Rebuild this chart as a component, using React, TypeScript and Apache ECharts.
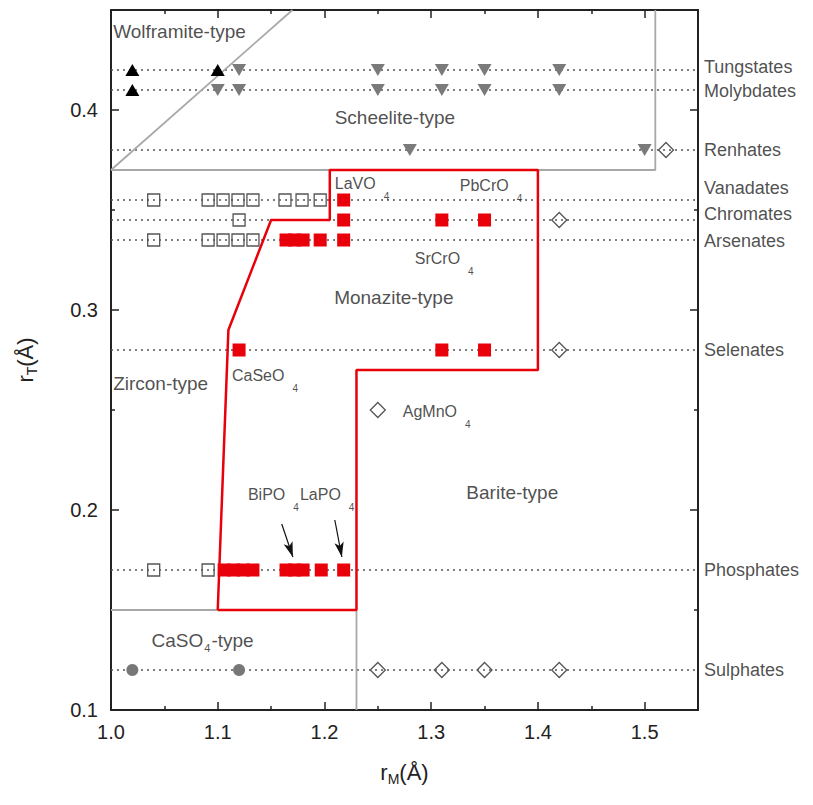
import React, { useEffect, useRef } from 'react';
import * as echarts from 'echarts';

// ---------- data ----------
const rowNames = ['Tungstates', 'Molybdates', 'Renhates', 'Vanadates', 'Chromates', 'Arsenates', 'Selenates', 'Phosphates', 'Sulphates'];
const rowY = [0.42, 0.41, 0.38, 0.355, 0.345, 0.335, 0.28, 0.17, 0.12];

// Wolframite-type (black up triangles)
const wolframitePts: [number, number][] = [[1.02, 0.42], [1.10, 0.42], [1.02, 0.41]];
// Scheelite-type (grey down triangles)
const scheelitePts: [number, number][] = [
  [1.12, 0.42], [1.25, 0.42], [1.31, 0.42], [1.35, 0.42], [1.42, 0.42],
  [1.10, 0.41], [1.12, 0.41], [1.25, 0.41], [1.31, 0.41], [1.35, 0.41], [1.42, 0.41],
  [1.28, 0.38], [1.50, 0.38],
];
// Zircon-type (open squares)
const zirconPts: [number, number][] = [
  [1.04, 0.355], [1.091, 0.355], [1.105, 0.355], [1.119, 0.355], [1.133, 0.355], [1.163, 0.355], [1.179, 0.355], [1.196, 0.355],
  [1.12, 0.345],
  [1.04, 0.335], [1.091, 0.335], [1.105, 0.335], [1.119, 0.335], [1.133, 0.335],
  [1.04, 0.17], [1.091, 0.17],
];
// Monazite-type (red squares)
const monazitePts: [number, number][] = [
  [1.218, 0.355],
  [1.218, 0.345], [1.31, 0.345], [1.35, 0.345],
  [1.164, 0.335], [1.172, 0.335], [1.18, 0.335], [1.196, 0.335], [1.218, 0.335],
  [1.12, 0.28], [1.31, 0.28], [1.35, 0.28],
  [1.106, 0.17], [1.115, 0.17], [1.124, 0.17], [1.133, 0.17], [1.164, 0.17], [1.172, 0.17], [1.18, 0.17], [1.197, 0.17], [1.218, 0.17],
];
// Barite-type (open diamonds)
const baritePts: [number, number][] = [
  [1.52, 0.38], [1.42, 0.345], [1.42, 0.28], [1.25, 0.25],
  [1.25, 0.12], [1.31, 0.12], [1.35, 0.12], [1.42, 0.12],
];
// CaSO4-type (grey circles)
const caso4Pts: [number, number][] = [[1.02, 0.12], [1.12, 0.12]];

// Region boundaries
const monaziteBoundary: [number, number][] = [
  [1.10, 0.15], [1.11, 0.29], [1.15, 0.345], [1.205, 0.345], [1.205, 0.37],
  [1.40, 0.37], [1.40, 0.27], [1.23, 0.27], [1.23, 0.15], [1.10, 0.15],
];
const scheeliteBoundary: [number, number][] = [[1.0, 0.37], [1.51, 0.37], [1.51, 0.45]];
const wolframiteBoundary: [number, number][] = [[1.0, 0.37], [1.17, 0.45]];
const caso4Boundary: [number, number][] = [[1.0, 0.15], [1.23, 0.15], [1.23, 0.1]];

// Region names
const regionNames = ['Wolframite-type', 'Scheelite-type', 'Monazite-type', 'Zircon-type', 'Barite-type', '{a|CaSO}{s|4}{a|-type}'];
const regionAt: [number, number][] = [[1.002, 0.4395], [1.266, 0.3965], [1.265, 0.3065], [1.002, 0.2635], [1.376, 0.209], [1.038, 0.135]];
const regionAlign = ['left', 'center', 'center', 'left', 'center', 'left'];

// Compound names (subscript 4)
const compoundNames = ['LaVO', 'PbCrO', 'SrCrO', 'CaSeO', 'AgMnO', 'BiPO', 'LaPO'];
const compoundAt: [number, number][] = [[1.2097, 0.3635], [1.3268, 0.3625], [1.2846, 0.326], [1.1133, 0.2675], [1.2734, 0.2495], [1.1283, 0.208], [1.177, 0.208]];

// Arrows
const arrows: [[number, number], [number, number]][] = [
  [[1.160, 0.193], [1.1704, 0.1765]],
  [[1.2097, 0.195], [1.2163, 0.1765]],
];

const xTickLabels = ['1.0', '1.1', '1.2', '1.3', '1.4', '1.5'];
const yTickLabels = ['0.1', '0.2', '0.3', '0.4'];

// ---------- layout / style ----------
const rowLabelOffset = [-3, 1, 0, -12, -6, 1, 0, 0, 0];
const FONT = 'Liberation Sans, Arial, sans-serif';
const TXT = '#222';
const RED = '#e8000b';

export default function App() {
  const ref = useRef<HTMLDivElement>(null);
  useEffect(() => {
    if (!ref.current) return;
    const chart = echarts.init(ref.current, undefined, { renderer: 'svg' });

    const fmt = (list: string[]) => (v: number) => {
      const t = (Math.round(v * 10) / 10).toFixed(1);
      return Math.abs(v - parseFloat(t)) < 1e-6 && list.includes(t) ? t : '';
    };

    const axisCommon = {
      type: 'value' as const,
      axisLine: { show: true, onZero: false, lineStyle: { color: '#222', width: 2 } },
      axisTick: { show: true, inside: true, length: 8, lineStyle: { color: '#222', width: 1.5 } },
      minorTick: { show: true, splitNumber: 2, length: 4, lineStyle: { color: '#222', width: 1.5 } },
      splitLine: { show: false },
      interval: 0.1,
    };

    const dotted = rowY.map((y) => ({
      type: 'line', silent: true, symbol: 'none', z: 1,
      data: [[1.0, y], [1.55, y]],
      lineStyle: { color: '#555', width: 1.5, type: [2, 4] },
    }));

    const boundary = (data: [number, number][], color: string, width: number) => ({
      type: 'line', silent: true, symbol: 'none', z: 2, data,
      lineStyle: { color, width },
    });

    const option: any = {
      animation: false,
      textStyle: { fontFamily: FONT },
      grid: { left: 111, right: 115, top: 10, bottom: 95 },
      xAxis: [
        {
          ...axisCommon, min: 1.0, max: 1.55, position: 'bottom',
          axisLabel: { formatter: fmt(xTickLabels), fontSize: 20, color: TXT, margin: 12, fontFamily: FONT },
          name: '{a|r}{s|M}{a|(Å)}', nameLocation: 'middle', nameGap: 48,
          nameTextStyle: {
            rich: {
              a: { fontSize: 22, color: TXT, fontFamily: FONT },
              s: { fontSize: 14, color: TXT, fontFamily: FONT, padding: [14, 0, 0, 0] },
            },
          },
        },
        {
          ...axisCommon, min: 1.0, max: 1.55, position: 'top',
          axisLabel: { show: false },
        },
      ],
      yAxis: [
        {
          ...axisCommon, min: 0.1, max: 0.45, position: 'left',
          axisLabel: { formatter: fmt(yTickLabels), fontSize: 20, color: TXT, margin: 13, fontFamily: FONT },
          name: '{a|r}{s|T}{a|(Å)}', nameLocation: 'middle', nameGap: 72, nameRotate: 90,
          nameTextStyle: {
            rich: {
              a: { fontSize: 22, color: TXT, fontFamily: FONT },
              s: { fontSize: 14, color: TXT, fontFamily: FONT, padding: [14, 0, 0, 0] },
            },
          },
        },
        {
          ...axisCommon, min: 0.1, max: 0.45, position: 'right',
          axisLabel: { show: false },
        },
      ],
      series: [
        ...dotted,
        boundary(scheeliteBoundary, '#a8a8a8', 1.8),
        boundary(wolframiteBoundary, '#a8a8a8', 1.8),
        boundary(caso4Boundary, '#a8a8a8', 1.8),
        boundary(monaziteBoundary, RED, 2.5),
        {
          type: 'scatter', name: 'Wolframite', z: 5, data: wolframitePts,
          symbol: 'triangle', symbolSize: [14, 12], itemStyle: { color: '#000', opacity: 1 },
        },
        {
          type: 'scatter', name: 'Scheelite', z: 5, data: scheelitePts,
          symbol: 'triangle', symbolRotate: 180, symbolSize: [14, 12], itemStyle: { color: '#7a7a7a', opacity: 1 },
        },
        {
          type: 'scatter', name: 'Zircon', z: 5, data: zirconPts,
          symbol: 'rect', symbolSize: 12,
          itemStyle: { color: 'rgba(255,255,255,0)', borderColor: '#555', borderWidth: 1.3, opacity: 1 },
        },
        {
          type: 'scatter', name: 'Monazite', z: 6, data: monazitePts,
          symbol: 'rect', symbolSize: 13, itemStyle: { color: RED, opacity: 1 },
        },
        {
          type: 'scatter', name: 'Barite', z: 5, data: baritePts,
          symbol: 'diamond', symbolSize: 15,
          itemStyle: { color: 'rgba(255,255,255,0)', borderColor: '#555', borderWidth: 1.3, opacity: 1 },
        },
        {
          type: 'scatter', name: 'CaSO4', z: 5, data: caso4Pts,
          symbol: 'circle', symbolSize: 12, itemStyle: { color: '#777', opacity: 1 },
        },
        // row names on the right
        {
          type: 'scatter', silent: true, symbolSize: 0, z: 7,
          data: rowY.map((y, i) => ({
            value: [1.55, y],
            label: { show: true, position: 'right', distance: 6, offset: [0, rowLabelOffset[i]], formatter: rowNames[i], fontSize: 18, color: TXT, fontFamily: FONT },
          })),
        },
        // region names
        {
          type: 'scatter', silent: true, symbolSize: 0, z: 7,
          data: regionAt.map((p, i) => ({
            value: p,
            label: {
              show: true, position: 'inside', align: regionAlign[i], verticalAlign: 'middle',
              formatter: regionNames[i], fontSize: 19, color: TXT, fontFamily: FONT,
              rich: {
                a: { fontSize: 19, color: TXT, fontFamily: FONT },
                s: { fontSize: 11, color: TXT, fontFamily: FONT, padding: [16, 1, 0, 1] },
              },
            },
          })),
        },
        // compound names
        {
          type: 'scatter', silent: true, symbolSize: 0, z: 7,
          data: compoundAt.map((p, i) => ({
            value: p,
            label: {
              show: true, position: 'inside', align: 'left', verticalAlign: 'middle',
              formatter: `{a|${compoundNames[i]}}{s|4}`,
              rich: {
                a: { fontSize: 16, color: TXT, fontFamily: FONT },
                s: { fontSize: 10, color: TXT, fontFamily: FONT, padding: [26, 0, 0, 8] },
              },
            },
          })),
        },
        // arrows
        {
          type: 'line', silent: true, data: [], z: 8,
          markLine: {
            silent: true, symbol: ['none', 'arrow'], symbolSize: [7, 15],
            label: { show: false },
            lineStyle: { color: '#111', width: 1.2, type: 'solid' },
            data: arrows.map(([a, b]) => [{ coord: a }, { coord: b }]),
          },
        },
      ],
    };
    chart.setOption(option);
    return () => chart.dispose();
  }, []);

  return <div ref={ref} style={{ position: 'fixed', left: 0, top: 0, width: 813, height: 805, background: '#fff' }} />;
}
